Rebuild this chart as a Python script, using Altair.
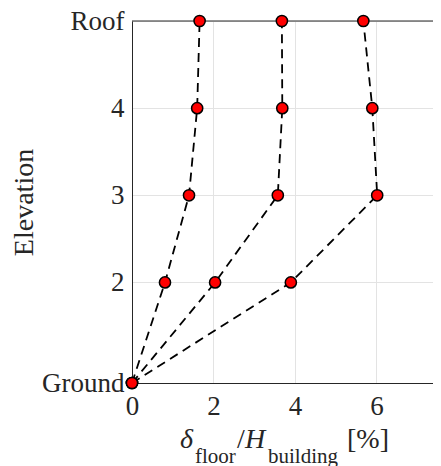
import altair as alt
import pandas as pd

# ---- data ----
level_names = ["Ground", "2", "3", "4", "Roof"]
elevations = [0, 15, 28, 41, 54]
series_names = ["A", "B", "C"]
drift_a = [0.0, 0.81, 1.40, 1.60, 1.66]
drift_b = [0.0, 2.04, 3.58, 3.69, 3.68]
drift_c = [0.0, 3.90, 6.02, 5.90, 5.68]
x_ticks = [0, 2, 4, 6]
x_max = 7.39

# title pieces: text, kind
title_texts = ["δ", "floor", "/", "H", "building", "[%]"]
title_kinds = ["it", "sub", "rm", "it", "sub", "rm"]

rows = []
for name, vals in zip(series_names, [drift_a, drift_b, drift_c]):
    for e, v in zip(elevations, vals):
        rows.append({"series": name, "elev": e, "drift": v})
df = pd.DataFrame(rows)

FONT = "Liberation Serif"
TXT = "#262626"
W, H = 301, 362

label_expr = " : ".join(
    [f"datum.value == {e} ? '{n}'" for e, n in zip(elevations, level_names)]
) + " : ''"

xscale = alt.Scale(domain=[0, x_max], nice=False, zero=False)
yscale = alt.Scale(domain=[0, elevations[-1]], nice=False)

base = alt.Chart(df).encode(
    x=alt.X("drift:Q", scale=xscale,
            axis=alt.Axis(values=x_ticks, title=None, grid=True, ticks=False,
                          labelPadding=10, format="d", labelFlush=False,
                          labelOverlap=False)),
    y=alt.Y("elev:Q", scale=yscale,
            axis=alt.Axis(values=elevations, labelExpr=label_expr, grid=True,
                          ticks=False, labelPadding=8, title="Elevation",
                          labelFlush=False, labelOverlap=False,
                          titleFontSize=28, titleFont=FONT, titleColor=TXT,
                          titleFontWeight="normal", titleAngle=270,
                          titleX=-100, titleY=H / 2, titleBaseline="alphabetic",
                          titleAlign="center")),
)

lines = base.mark_line(color="black", strokeWidth=1.8, strokeDash=[9, 6]).encode(
    detail="series:N", order="elev:Q")
points = base.mark_point(filled=True, fill="#ff0000", stroke="black",
                         strokeWidth=1.5, size=125, opacity=1)

top_rule = alt.Chart(pd.DataFrame({"e": [elevations[-1]]})).mark_rule(
    color=TXT, strokeWidth=1).encode(
    y=alt.Y("e:Q", scale=yscale), x=alt.value(0), x2=alt.value(W))

# title pieces positioned in pixels (layout only)
title_x = [48, 63, 105, 113, 136, 215]
title_df = pd.DataFrame({"t": title_texts, "k": title_kinds, "px": title_x})
main_y = 427
sub_y = 442

def piece(kind, size, style, yv):
    return alt.Chart(title_df).transform_filter(
        alt.datum.k == kind).mark_text(
        font=FONT, fontSize=size, fontStyle=style, color=TXT,
        align="left", baseline="alphabetic").encode(
        text="t:N", x=alt.X("px:Q", scale=None), y=alt.value(yv))

t_it = piece("it", 28, "italic", main_y)
t_rm = piece("rm", 28, "normal", main_y)
t_sub = piece("sub", 21, "normal", sub_y)

chart = alt.layer(top_rule, lines, points, t_it, t_rm, t_sub).properties(
    width=W, height=H,
    autosize=alt.AutoSizeParams(type="none"),
    padding={"left": 124, "top": 13, "right": 0, "bottom": 86},
).configure_view(stroke=None).configure_axis(
    labelFont=FONT, labelFontSize=27, labelColor=TXT,
    domainColor=TXT, domainWidth=1, gridColor="#e3e3e3", gridWidth=1,
)

chart.save("out.html", embed_options={"renderer": "svg", "actions": False})
